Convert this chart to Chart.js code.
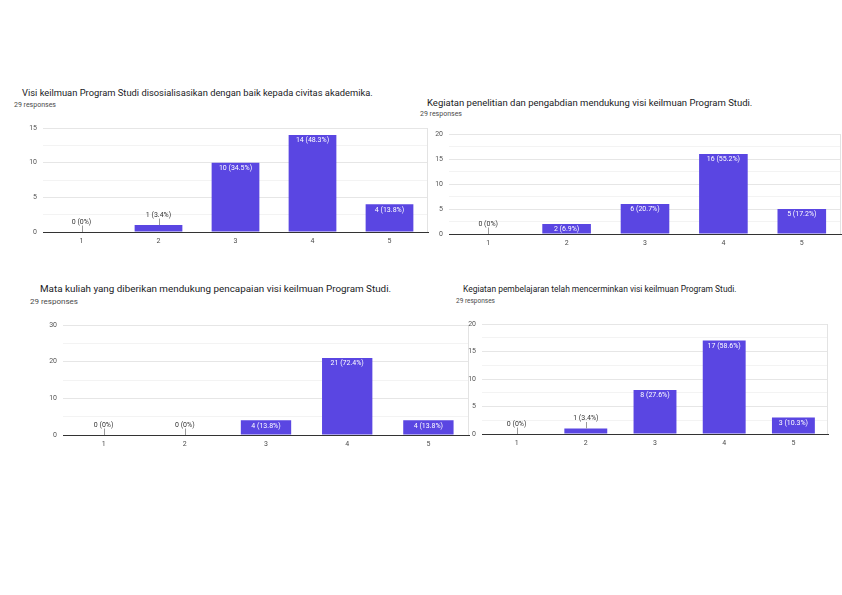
<!DOCTYPE html>
<html>
<head>
<meta charset="utf-8">
<script src="https://cdn.jsdelivr.net/npm/chart.js@4"></script>
<style>
  body { margin: 0; width: 842px; height: 595px; background: #fff; position: relative; overflow: hidden; font-family: Roboto, sans-serif; }
  .box { position: absolute; line-height: 0; }
  .box canvas { display: block; }
  .title { position: absolute; white-space: nowrap; color: #202124; }
  .resp { position: absolute; white-space: nowrap; color: #4a4a4a; }
</style>
</head>
<body>
<div class="title" style="left:22px;top:88px;font-size:9.35px;line-height:9.35px">Visi keilmuan Program Studi disosialisasikan dengan baik kepada civitas akademika.</div>
<div class="resp" style="left:14px;top:101.5px;font-size:7px;line-height:7px">29 responses</div>
<div class="title" style="left:427px;top:98px;font-size:9.5px;line-height:9.5px">Kegiatan penelitian dan pengabdian mendukung visi keilmuan Program Studi.</div>
<div class="resp" style="left:420px;top:110.5px;font-size:7px;line-height:7px">29 responses</div>
<div class="title" style="left:40px;top:284px;font-size:9.85px;line-height:9.85px">Mata kuliah yang diberikan mendukung pencapaian visi keilmuan Program Studi.</div>
<div class="resp" style="left:30px;top:297.7px;font-size:8px;line-height:8px">29 responses</div>
<div class="title" style="left:463px;top:284.7px;font-size:8.45px;line-height:8.45px">Kegiatan pembelajaran telah mencerminkan visi keilmuan Program Studi.</div>
<div class="resp" style="left:456px;top:297.5px;font-size:6.5px;line-height:6.5px">29 responses</div>

<div class="box" id="b1"><canvas id="c1"></canvas></div>
<div class="box" id="b2"><canvas id="c2"></canvas></div>
<div class="box" id="b3"><canvas id="c3"></canvas></div>
<div class="box" id="b4"><canvas id="c4"></canvas></div>

<script>
const categories = ['1', '2', '3', '4', '5'];

// Visi keilmuan disosialisasikan
const visiValues = [0, 1, 10, 14, 4];
const visiPercent = ['0%', '3.4%', '34.5%', '48.3%', '13.8%'];
const visiTicks = [0, 5, 10, 15];

// Kegiatan penelitian dan pengabdian
const penelitianValues = [0, 2, 6, 16, 5];
const penelitianPercent = ['0%', '6.9%', '20.7%', '55.2%', '17.2%'];
const penelitianTicks = [0, 5, 10, 15, 20];

// Mata kuliah
const matkulValues = [0, 0, 4, 21, 4];
const matkulPercent = ['0%', '0%', '13.8%', '72.4%', '13.8%'];
const matkulTicks = [0, 10, 20, 30];

// Kegiatan pembelajaran
const pembelajaranValues = [0, 1, 8, 17, 3];
const pembelajaranPercent = ['0%', '3.4%', '27.6%', '58.6%', '10.3%'];
const pembelajaranTicks = [0, 5, 10, 15, 20];

const BAR_COLOR = '#5a46e2';
const Y_W = 30, TOP_PAD = 6, X_H = 18;

// labels "n (p%)" on the bars, leader line when the bar is too short
const barLabels = {
  id: 'barLabels',
  afterDatasetsDraw(chart) {
    const c = chart.ctx;
    const meta = chart.getDatasetMeta(0);
    const vals = chart.data.datasets[0].data;
    const pct = chart.options.plugins.barLabels.percent;
    const area = chart.chartArea;
    c.save();
    // thin line at the right edge of the plot
    c.strokeStyle = '#e3e3e3';
    c.lineWidth = 1;
    c.beginPath();
    c.moveTo(Math.round(area.right) - 0.5, area.top);
    c.lineTo(Math.round(area.right) - 0.5, area.bottom);
    c.stroke();

    c.font = '7px Roboto';
    c.textAlign = 'center';
    c.textBaseline = 'middle';
    meta.data.forEach((bar, i) => {
      const txt = vals[i] + ' (' + pct[i] + ')';
      const h = bar.base - bar.y;
      if (h >= 8) {
        c.fillStyle = '#ffffff';
        c.fillText(txt, bar.x, bar.y + 5.5);
      } else {
        c.strokeStyle = '#9a9a9a';
        c.beginPath();
        c.moveTo(Math.round(bar.x) + 0.5, bar.y);
        c.lineTo(Math.round(bar.x) + 0.5, bar.y - 6.5);
        c.stroke();
        c.fillStyle = '#333333';
        c.fillText(txt, bar.x, bar.y - 10);
      }
    });
    c.restore();
  }
};

function makeChart(id, box, plot, values, percent, ticks) {
  const max = ticks[ticks.length - 1];
  const step = ticks[1] - ticks[0];
  const w = Y_W + (plot.right - plot.left) + 1;
  const h = TOP_PAD + (plot.bottom - plot.top) + X_H;
  const b = document.getElementById(box);
  b.style.left = (plot.left - Y_W) + 'px';
  b.style.top = (plot.top - TOP_PAD) + 'px';
  const cv = document.getElementById(id);
  cv.width = w;
  cv.height = h;
  cv.style.width = w + 'px';
  cv.style.height = h + 'px';

  return new Chart(cv.getContext('2d'), {
    type: 'bar',
    data: {
      labels: categories,
      datasets: [{
        data: values,
        backgroundColor: BAR_COLOR,
        borderWidth: 0,
        categoryPercentage: 1,
        barPercentage: 0.62
      }]
    },
    options: {
      responsive: false,
      animation: false,
      layout: { padding: { top: TOP_PAD, right: 1, left: 0, bottom: 0 } },
      plugins: {
        legend: { display: false },
        tooltip: { enabled: false },
        barLabels: { percent: percent }
      },
      scales: {
        x: {
          grid: { display: false, drawTicks: false },
          border: { display: true, color: '#333333', width: 1 },
          ticks: { color: '#4a4a4a', font: { family: 'Roboto', size: 7 }, padding: 5, maxRotation: 0 },
          afterFit(s) { s.height = X_H; }
        },
        y: {
          min: 0,
          max: max,
          afterBuildTicks(s) {
            // minor gridline halfway between labelled ticks
            const t = [];
            for (let v = 0; v <= max + 1e-9; v += step / 2) t.push({ value: v });
            s.ticks = t;
          },
          grid: {
            drawTicks: false,
            color: ctx => (ctx.tick && ticks.includes(ctx.tick.value)) ? '#e6e6e6' : '#f3f3f3'
          },
          border: { display: false },
          ticks: {
            color: '#555',
            font: { family: 'Roboto', size: 7 },
            padding: 6,
            autoSkip: false,
            callback: v => ticks.includes(v) ? String(v) : ''
          },
          afterFit(s) {
            s.width = Y_W;
            s.paddingTop = 0;
            s.paddingBottom = 0;
          }
        }
      }
    },
    plugins: [barLabels]
  });
}

makeChart('c1', 'b1', { left: 43, right: 428, top: 128, bottom: 232 }, visiValues, visiPercent, visiTicks);
makeChart('c2', 'b2', { left: 449, right: 841, top: 134, bottom: 234 }, penelitianValues, penelitianPercent, penelitianTicks);
makeChart('c3', 'b3', { left: 63, right: 469, top: 325, bottom: 435 }, matkulValues, matkulPercent, matkulTicks);
makeChart('c4', 'b4', { left: 482, right: 828, top: 324, bottom: 434 }, pembelajaranValues, pembelajaranPercent, pembelajaranTicks);
</script>
</body>
</html>
